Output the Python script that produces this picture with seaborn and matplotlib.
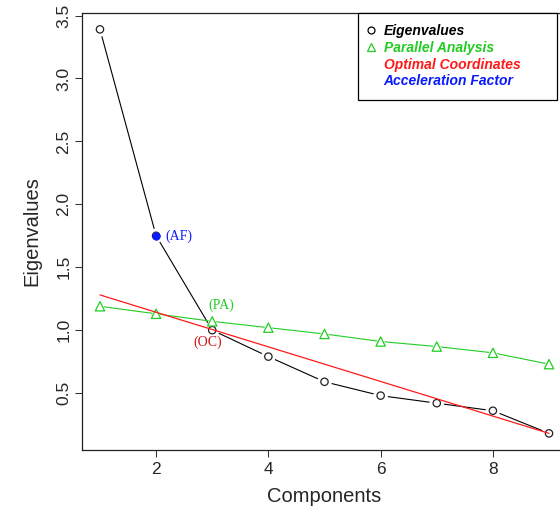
import numpy as np
import pandas as pd
import matplotlib
matplotlib.use("Agg")
import matplotlib.pyplot as plt
import seaborn as sns
from matplotlib.lines import Line2D

# ---- data ----
components = [1, 2, 3, 4, 5, 6, 7, 8, 9]
eigenvalues = [3.39, 1.75, 1.00, 0.79, 0.59, 0.48, 0.42, 0.36, 0.18]
parallel = [1.19, 1.13, 1.07, 1.02, 0.97, 0.91, 0.87, 0.82, 0.73]
oc_line_x = [1, 9]
oc_line_y = [1.28, 0.18]
af_component = 2
af_value = 1.75
pa_component = 3
oc_component = 3
xticks = [2, 4, 6, 8]
yticks = [0.5, 1.0, 1.5, 2.0, 2.5, 3.0, 3.5]
legend_labels = ["Eigenvalues", "Parallel Analysis", "Optimal Coordinates", "Acceleration Factor"]

GREEN = "#22cc22"
RED = "#ff1a1a"
BLUE = "#0a1aff"

df = pd.DataFrame({"comp": components, "eig": eigenvalues, "pa": parallel})

sns.set_style("ticks")
plt.rcParams["font.family"] = ["Liberation Sans", "DejaVu Sans"]

fig = plt.figure(figsize=(5.6, 5.22), dpi=100)
ax = fig.add_axes([82 / 560, (522 - 450) / 522, (567 - 82) / 560, (450 - 13) / 522])

# eigenvalue line with gaps (type "b")
sns.lineplot(data=df, x="comp", y="eig", ax=ax, color="black", lw=0.8, zorder=1)
sns.scatterplot(data=df, x="comp", y="eig", ax=ax, marker="o", s=110, color="white",
                edgecolor="none", zorder=1.1)
# parallel analysis
sns.lineplot(data=df, x="comp", y="pa", ax=ax, color=GREEN, lw=0.8, zorder=1.2)
sns.scatterplot(data=df, x="comp", y="pa", ax=ax, marker="^", s=120, color="white",
                edgecolor="none", zorder=1.3)
# markers
sns.scatterplot(data=df, x="comp", y="eig", ax=ax, marker="o", s=28, facecolor="none",
                edgecolor="#222222", linewidth=0.9, zorder=3)
sns.scatterplot(data=df, x="comp", y="pa", ax=ax, marker="^", s=45, facecolor="none",
                edgecolor=GREEN, linewidth=0.9, zorder=3)
# optimal coordinates line
sns.lineplot(x=oc_line_x, y=oc_line_y, ax=ax, color=RED, lw=0.9, zorder=4)
# acceleration factor point
sns.scatterplot(x=[af_component], y=[af_value], ax=ax, marker="o", s=30, color=BLUE,
                edgecolor=BLUE, zorder=5)

serif = ["Liberation Serif", "DejaVu Serif"]
ax.annotate("(AF)", (af_component, af_value), xytext=(9, 0), textcoords="offset pixels",
            ha="left", va="center", color=BLUE, fontsize=10, family=serif)
pa_val = parallel[components.index(pa_component)]
ax.annotate("(PA)", (pa_component, pa_val), xytext=(9, 16), textcoords="offset pixels",
            ha="center", va="center", color=GREEN, fontsize=10, family=serif)
oc_val = eigenvalues[components.index(oc_component)]
ax.annotate("(OC)", (oc_component, oc_val), xytext=(-5, -12), textcoords="offset pixels",
            ha="center", va="center", color="#cc1111", fontsize=10, family=serif)

ax.set_xlim(0.68, 9.32)
ax.set_ylim(0.048, 3.52)
ax.set_xticks(xticks)
ax.set_yticks(yticks)
ax.set_xticklabels([str(t) for t in xticks], fontsize=12.5)
ax.set_yticklabels([f"{t:.1f}" for t in yticks], fontsize=12.5, rotation=90, va="center")
ax.tick_params(direction="out", length=5, width=0.75, color="#333333", pad=4)
ax.tick_params(axis="y", pad=2.5)
ax.set_xlabel("Components", fontsize=14.5, labelpad=7)
ax.set_ylabel("Eigenvalues", fontsize=14.5, labelpad=11)
for s in ax.spines.values():
    s.set_visible(True)
    s.set_linewidth(0.9)
    s.set_color("#222222")

handles = [
    Line2D([], [], marker="o", ls="none", mfc="none", mec="black", ms=5, mew=0.9),
    Line2D([], [], marker="^", ls="none", mfc="none", mec=GREEN, ms=6, mew=0.9),
    Line2D([], [], ls="none"),
    Line2D([], [], ls="none"),
]
leg = fig.legend(handles, legend_labels, loc="upper left",
                 bbox_to_anchor=(358 / 560, (522 - 97) / 522, 199 / 560, 84 / 522),
                 mode="expand", borderaxespad=0, fancybox=False, framealpha=1,
                 edgecolor="black", borderpad=0.8, handlelength=0.25, handletextpad=0.8,
                 labelspacing=0.2, prop={"family": ["Liberation Sans", "DejaVu Sans"],
                                         "weight": "bold", "style": "italic", "size": 10})
leg.get_frame().set_linewidth(0.9)
for t, c in zip(leg.get_texts(), ["black", GREEN, RED, BLUE]):
    t.set_color(c)

fig.savefig("out.png", dpi=100)
